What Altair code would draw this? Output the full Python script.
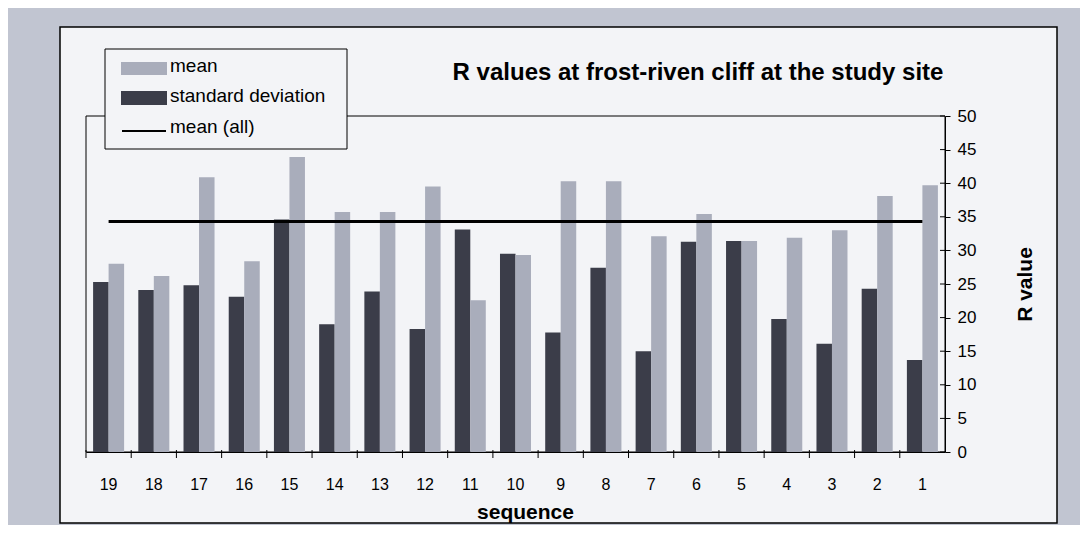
import altair as alt
import pandas as pd

# ---- data ----
sequence = ["19", "18", "17", "16", "15", "14", "13", "12", "11", "10",
            "9", "8", "7", "6", "5", "4", "3", "2", "1"]
std_dev = [25.3, 24.1, 24.8, 23.1, 34.6, 19.0, 23.9, 18.3, 33.1, 29.5,
           17.8, 27.4, 15.0, 31.3, 31.4, 19.8, 16.1, 24.3, 13.7]
mean = [28.0, 26.2, 40.9, 28.4, 43.9, 35.7, 35.7, 39.5, 22.6, 29.3,
        40.3, 40.3, 32.1, 35.4, 31.4, 31.9, 33.0, 38.1, 39.7]
mean_all = 34.3
series_names = ["standard deviation", "mean"]
y_ticks = [0, 5, 10, 15, 20, 25, 30, 35, 40, 45, 50]
title_text = "R values at frost-riven cliff at the study site"

# ---- style ----
W, H = 859, 336
BG = "#f3f4f7"
OUT = "#c1c5d1"
DARK = "#3b3d49"
LIGHT = "#a9adbb"
FONT = "Liberation Sans"

bars_df = pd.DataFrame({
    "sequence": sequence * 2,
    "series": [series_names[0]] * len(sequence) + [series_names[1]] * len(sequence),
    "value": std_dev + mean,
})
line_df = pd.DataFrame({"sequence": sequence, "value": [mean_all] * len(sequence)})
ytick_df = pd.DataFrame({"value": y_ticks})
dummy = pd.DataFrame({"d": [0]})

xscale = alt.Scale(paddingInner=0.314, paddingOuter=0.157)
yscale = alt.Scale(domain=[0, 50], nice=False)

x_axis = alt.Axis(title="sequence", labelAngle=0, ticks=False, tickSize=0,
                  labelPadding=24, labelFontSize=16, labelFont=FONT,
                  labelColor="black", domainColor="black", domainWidth=1,
                  titleFont=FONT, titleFontSize=21, titleFontWeight="bold",
                  titleColor="black", titlePadding=9, titleX=439, zindex=1)
y_axis = alt.Axis(orient="right", values=y_ticks, grid=False, tickSize=5,
                  tickColor="black", domainColor="black", labelFontSize=17,
                  labelFont=FONT, labelColor="black", labelPadding=7,
                  labelOverlap=False,
                  title="R value", titleFont=FONT, titleFontSize=21,
                  titleFontWeight="bold", titleColor="black", titleAngle=270,
                  titlePadding=60, zindex=1)

box = alt.Chart(dummy).mark_rect(fill=BG, stroke="black", strokeWidth=1.5).encode(
    x=alt.value(-26), x2=alt.value(971), y=alt.value(-89), y2=alt.value(407))

border = alt.Chart(dummy).mark_rect(fillOpacity=0, stroke="black", strokeWidth=1).encode(
    x=alt.value(0), x2=alt.value(W), y=alt.value(0), y2=alt.value(H))

bars = alt.Chart(bars_df).mark_bar().encode(
    x=alt.X("sequence:N", sort=sequence, scale=xscale, axis=x_axis),
    xOffset=alt.XOffset("series:N", sort=series_names,
                        scale=alt.Scale(paddingInner=0, paddingOuter=0)),
    y=alt.Y("value:Q", scale=yscale, axis=y_axis),
    color=alt.Color("series:N", scale=alt.Scale(domain=["mean", "standard deviation"],
                                                range=[LIGHT, DARK]), legend=None),
)

line = alt.Chart(line_df).mark_line(color="black", strokeWidth=3).encode(
    x=alt.X("sequence:N", sort=sequence, scale=xscale, axis=x_axis),
    y=alt.Y("value:Q", scale=yscale, axis=y_axis),
)

ticks = alt.Chart(line_df).mark_rule(color="black", strokeWidth=1, xOffset=-7.1).encode(
    x=alt.X("sequence:N", sort=sequence, scale=xscale, bandPosition=0, axis=x_axis),
    y=alt.value(H - 2), y2=alt.value(H + 6),
)

yticks_in = alt.Chart(ytick_df).mark_rule(color="black", strokeWidth=1).encode(
    x=alt.value(W - 5), x2=alt.value(W),
    y=alt.Y("value:Q", scale=yscale, axis=y_axis),
)

leg_box = alt.Chart(dummy).mark_rect(fill=BG, stroke="black", strokeWidth=1).encode(
    x=alt.value(19), x2=alt.value(261), y=alt.value(-67), y2=alt.value(33))
sw1 = alt.Chart(dummy).mark_rect(fill=LIGHT).encode(
    x=alt.value(35), x2=alt.value(81), y=alt.value(-54), y2=alt.value(-41))
sw2 = alt.Chart(dummy).mark_rect(fill=DARK).encode(
    x=alt.value(35), x2=alt.value(81), y=alt.value(-25), y2=alt.value(-11))
sw3 = alt.Chart(dummy).mark_rule(color="black", strokeWidth=2).encode(
    x=alt.value(36), x2=alt.value(80), y=alt.value(15))

def txt(t, x, y, size, weight="normal", align="left"):
    return alt.Chart(dummy).mark_text(text=t, font=FONT, fontSize=size, fontWeight=weight,
                                      align=align, baseline="alphabetic",
                                      color="black").encode(
        x=alt.value(x), y=alt.value(y))

t1 = txt("mean", 84, -44, 19)
t2 = txt("standard deviation", 84, -14, 19)
t3 = txt("mean (all)", 84, 17, 19)
title = txt(title_text, 612, -36, 24, "bold", "center")

chart = alt.layer(box, border, bars, line, ticks, yticks_in, leg_box, sw1, sw2, sw3,
                  t1, t2, t3, title).properties(
    width=W, height=H,
    padding={"left": 78, "top": 108, "right": 135, "bottom": 73},
    autosize=alt.AutoSizeParams(type="none"),
    background=OUT,
).configure_view(strokeWidth=0)

chart.save("out.html", embed_options={"renderer": "svg", "actions": False})
